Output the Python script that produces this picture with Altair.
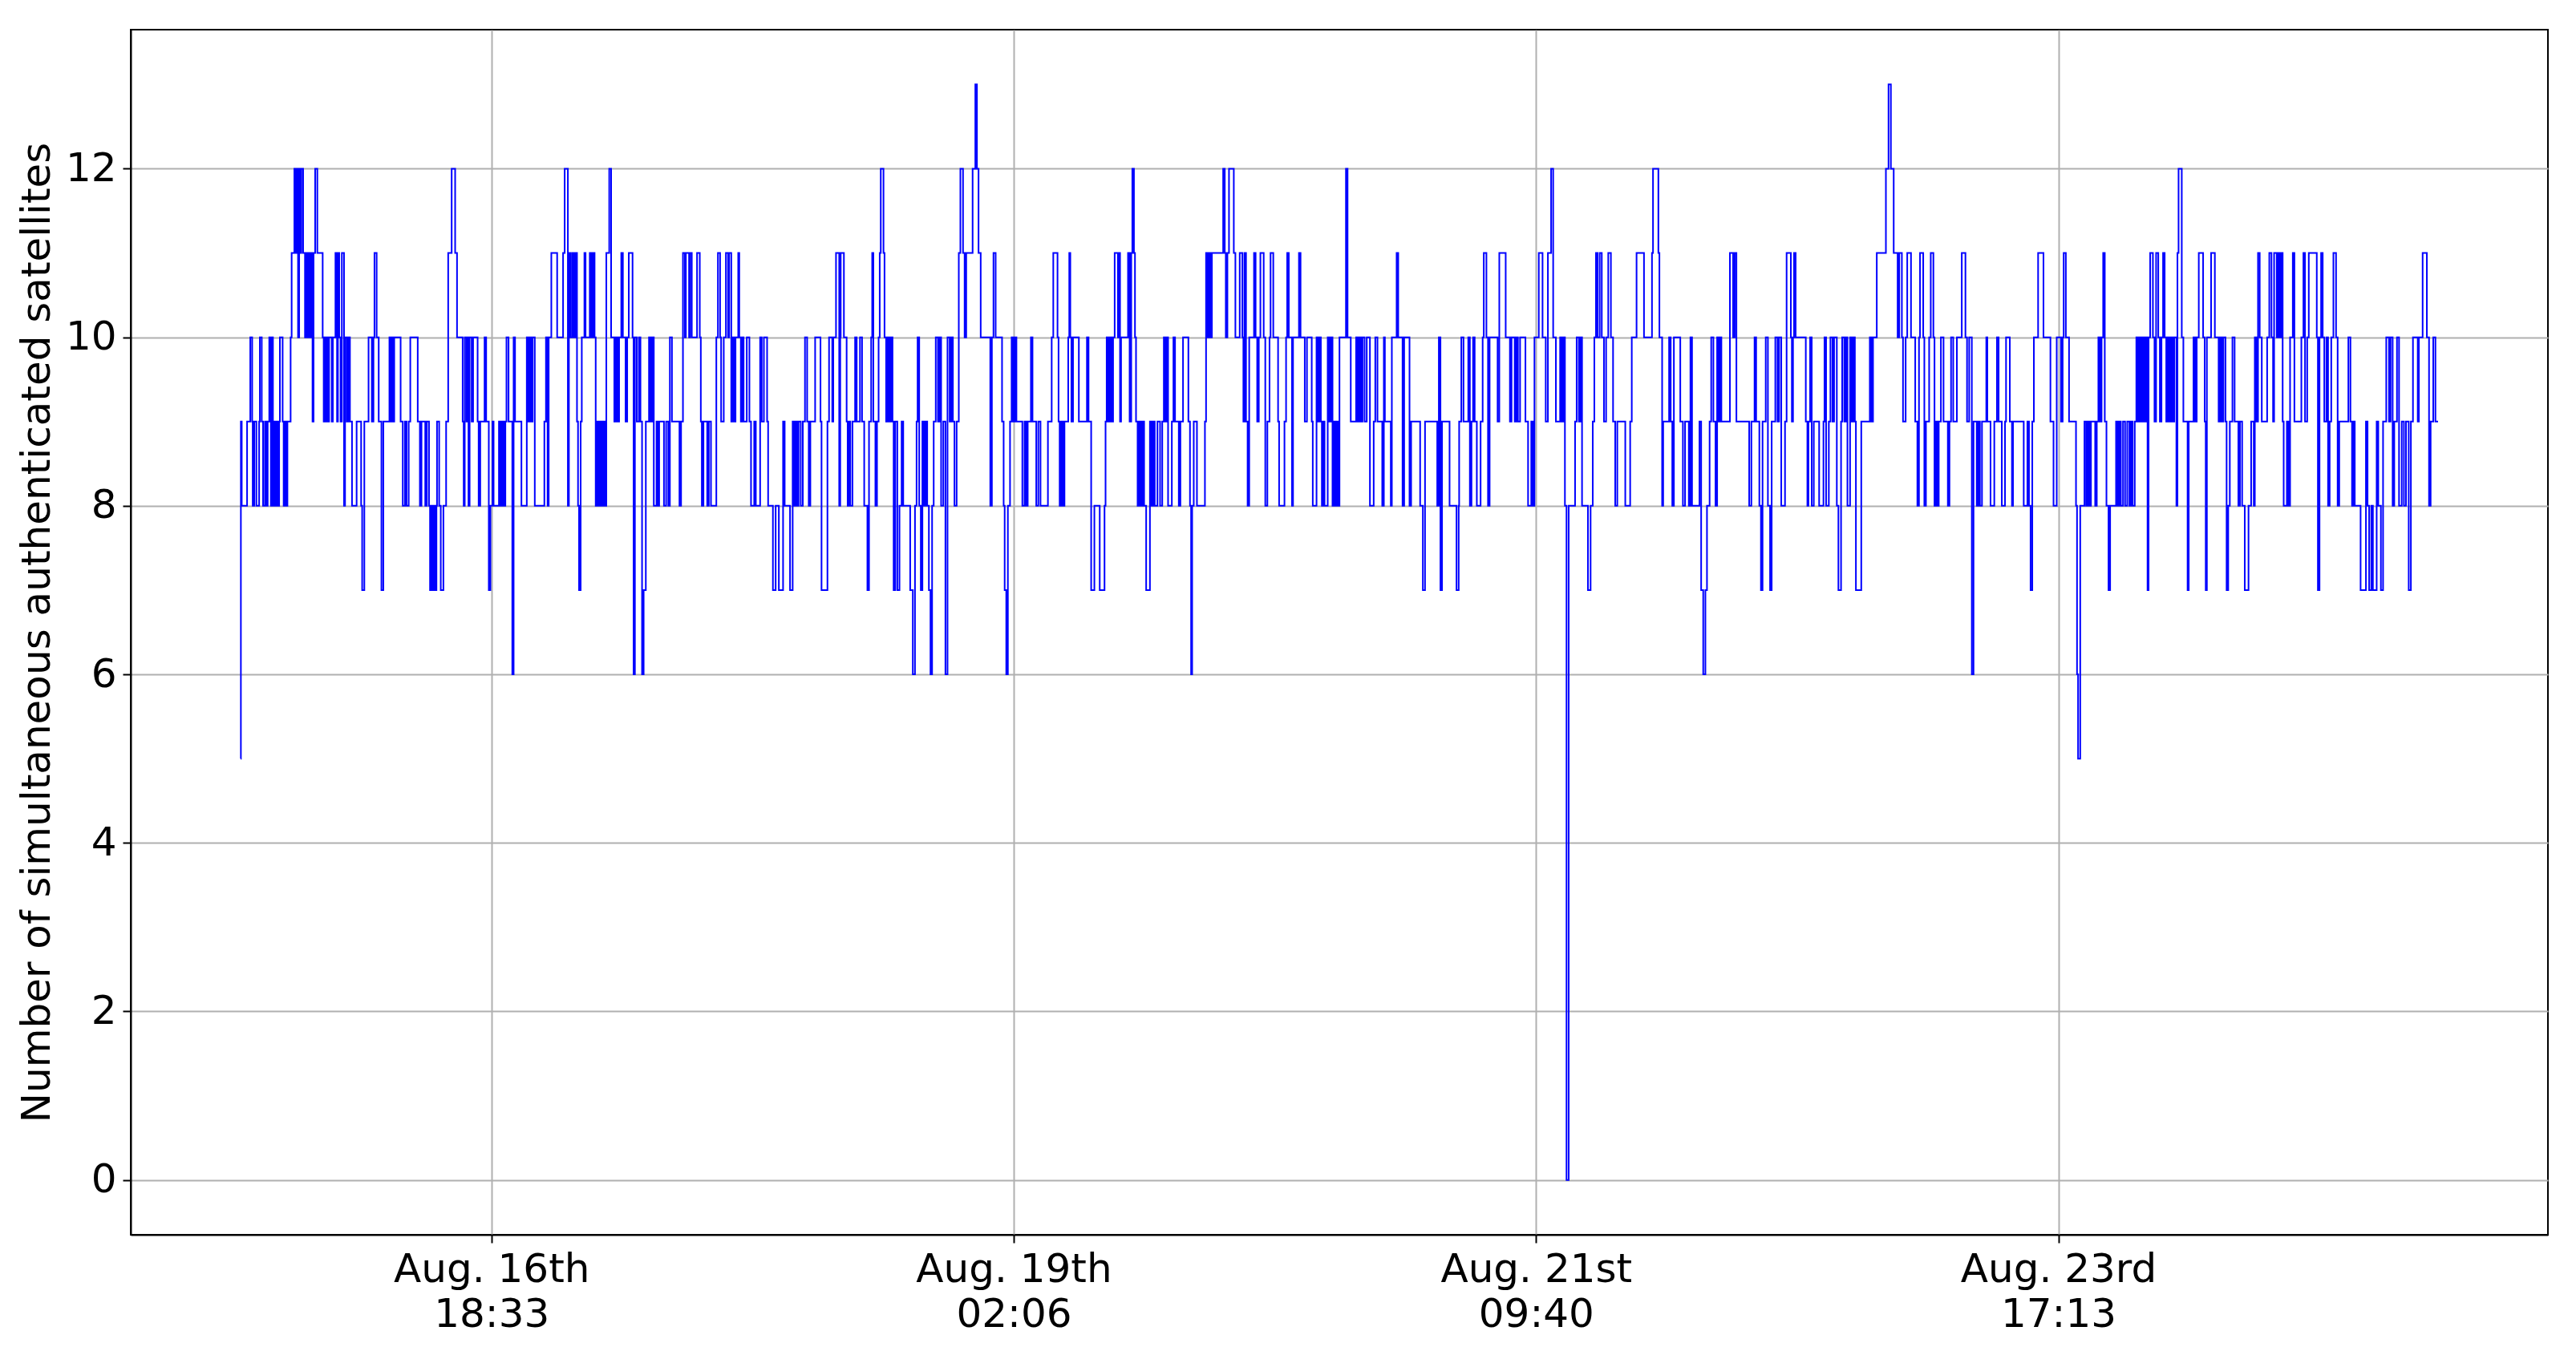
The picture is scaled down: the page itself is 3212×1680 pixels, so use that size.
import json
import altair as alt
import pandas as pd

# time in hours since Aug. 15th 00:00, number of simultaneous authenticated satellites
seg01 = [[15.87, 5], [15.90, 9], [15.99, 8], [16.56, 9], [16.90, 10], [17.10, 9], [17.16, 8], [17.33, 9],
         [17.55, 8], [17.84, 9], [17.92, 10], [18.12, 9], [18.26, 8], [18.46, 9], [18.63, 8], [18.75, 9],
         [18.92, 10], [19.09, 8], [19.20, 10], [19.31, 8], [19.48, 9], [19.60, 8], [19.71, 9], [19.83, 8],
         [19.97, 9], [20.05, 10], [20.34, 9], [20.45, 8], [20.56, 9], [20.73, 8], [20.85, 9], [21.19, 10],
         [21.30, 11], [21.59, 12], [21.70, 11], [21.87, 12], [21.98, 10], [22.10, 12], [22.21, 11], [22.33, 12],
         [22.52, 11], [22.72, 10], [22.84, 11], [23.01, 10], [23.12, 11], [23.29, 10], [23.41, 11], [23.52, 9],
         [23.63, 11], [23.80, 12], [24.03, 11], [24.60, 10], [24.71, 9], [24.83, 10], [24.94, 9], [25.05, 10],
         [25.17, 9], [25.28, 10], [25.56, 9], [25.68, 10], [25.96, 11], [26.13, 9], [26.22, 11], [26.36, 10],
         [26.50, 9], [26.64, 11], [26.87, 8], [26.98, 10], [27.16, 9], [27.33, 10], [27.50, 9], [27.72, 8],
         [28.21, 9], [28.69, 8], [28.80, 7], [29.03, 9], [29.48, 10], [29.83, 9], [30.00, 10], [30.11, 11],
         [30.34, 10], [30.56, 9], [30.85, 7], [31.05, 9], [31.70, 10], [31.82, 9], [31.93, 10], [32.10, 9],
         [32.21, 10], [32.89, 9], [33.12, 8], [33.35, 9], [33.52, 8], [33.75, 9], [33.92, 10], [34.71, 9],
         [34.94, 8], [35.11, 9], [35.51, 8], [35.68, 9], [35.91, 8], [36.02, 7], [36.19, 8], [36.30, 7],
         [36.47, 8], [36.59, 7], [36.70, 8]]
seg02 = [[36.76, 9], [36.99, 8], [37.16, 7], [37.44, 8], [37.73, 9], [37.95, 11], [38.32, 12], [38.69, 11],
         [38.89, 10], [39.49, 9], [39.60, 8], [39.71, 10], [39.89, 9], [40.00, 10], [40.11, 8], [40.23, 10],
         [40.45, 9], [40.60, 10], [41.08, 9], [41.19, 8], [41.36, 9], [41.82, 10], [41.99, 9], [42.27, 7],
         [42.44, 8], [42.67, 9], [42.78, 8], [43.35, 9], [43.52, 8], [43.69, 9], [43.86, 8], [44.03, 9],
         [44.15, 10], [44.37, 9], [44.77, 6], [44.91, 10], [45.06, 9], [45.74, 8], [46.31, 10], [46.48, 9],
         [46.59, 10], [46.76, 9], [46.93, 10], [47.16, 8], [48.18, 9], [48.35, 10], [48.52, 8], [48.64, 10],
         [48.92, 11], [49.54, 10], [50.17, 11], [50.34, 12], [50.68, 8], [50.79, 11], [50.96, 10], [51.14, 11],
         [51.31, 10], [51.48, 11], [51.65, 9], [51.76, 8], [51.87, 7], [52.04, 9], [52.16, 10], [52.44, 11],
         [52.56, 10], [53.01, 11], [53.18, 10], [53.35, 11], [53.52, 10], [53.64, 8], [53.81, 9], [53.98, 8],
         [54.15, 9], [54.32, 8], [54.49, 9], [54.66, 8], [54.77, 11], [55.08, 12], [55.28, 10], [55.62, 9],
         [55.79, 10], [55.96, 9], [56.13, 10], [56.36, 11], [56.53, 10], [56.82, 9], [56.99, 10], [57.16, 11],
         [57.56, 10], [57.67, 6], [57.81, 10], [58.01, 9]]
seg03 = [[58.23, 10], [58.40, 9], [58.57, 6], [58.74, 7], [58.97, 9], [59.31, 10], [59.48, 9], [59.65, 10],
         [59.82, 8], [60.11, 9], [60.22, 8], [60.39, 9], [60.90, 8], [61.13, 9], [61.36, 8], [61.53, 10],
         [61.75, 9], [62.55, 8], [62.72, 9], [62.92, 11], [63.12, 10], [63.23, 11], [63.57, 10], [63.68, 11],
         [63.86, 10], [64.42, 11], [64.71, 10], [64.82, 9], [64.93, 8], [65.10, 9], [65.50, 8], [65.67, 9],
         [65.90, 8], [66.47, 10], [66.64, 11], [66.87, 10], [66.98, 9], [67.26, 10], [67.49, 11], [67.72, 10],
         [67.83, 11], [68.06, 9], [68.23, 10], [68.40, 9], [68.51, 10], [68.80, 11], [68.91, 10], [69.08, 9],
         [69.20, 10], [69.37, 9], [69.71, 10], [69.99, 9], [70.16, 8], [70.50, 9], [70.67, 8], [71.13, 10],
         [71.30, 9], [71.53, 10], [71.87, 9], [71.98, 8], [72.49, 7], [72.78, 8], [73.12, 7], [73.57, 9],
         [73.74, 8], [74.31, 7], [74.59, 9], [74.71, 8], [74.88, 9], [75.05, 8], [75.22, 9], [75.45, 8],
         [75.67, 9], [75.90, 10], [76.13, 9], [76.30, 8], [76.47, 9], [76.98, 10], [77.55, 9], [77.66, 7],
         [78.29, 9], [78.46, 10], [78.80, 9], [78.91, 10], [79.20, 11], [79.54, 8], [79.65, 10]]
seg04 = [[79.70, 11], [80.04, 10], [80.33, 9], [80.44, 8], [80.55, 9], [80.72, 8], [80.95, 9], [81.23, 10],
         [81.40, 9], [81.75, 10], [81.97, 9], [82.20, 8], [82.54, 7], [82.71, 9], [82.94, 10], [83.05, 11],
         [83.17, 9], [83.39, 8], [83.56, 9], [83.73, 10], [83.85, 11], [83.96, 12], [84.25, 11], [84.36, 10],
         [84.53, 9], [84.70, 10], [84.87, 9], [85.04, 10], [85.21, 9], [85.33, 7], [85.50, 9], [85.72, 7],
         [85.95, 8], [86.18, 9], [86.35, 8], [87.09, 7], [87.37, 6], [87.60, 8], [87.77, 9], [87.88, 10],
         [88.05, 8], [88.22, 7], [88.39, 9], [88.56, 8], [88.73, 9], [88.90, 8], [89.08, 7], [89.25, 6],
         [89.42, 8], [89.59, 9], [89.81, 10], [90.04, 9], [90.21, 10], [90.38, 8], [90.61, 9], [90.84, 6],
         [91.06, 10], [91.29, 9], [91.46, 10], [91.63, 9], [91.80, 8], [92.03, 9], [92.26, 11], [92.43, 12],
         [92.71, 11], [92.88, 10], [93.05, 11], [93.73, 12], [94.02, 13], [94.19, 12], [94.36, 11], [94.59, 10],
         [95.61, 8], [95.78, 10], [95.95, 11], [96.18, 10], [96.86, 9], [97.03, 8], [97.14, 7], [97.31, 6],
         [97.48, 8], [97.71, 9], [97.88, 10], [98.05, 9], [98.22, 10], [98.39, 9], [99.02, 8], [99.25, 9],
         [99.42, 8], [99.59, 9], [99.93, 10], [100.10, 9], [100.50, 8], [100.72, 9], [100.95, 8]]
seg05 = [[101.17, 8], [101.74, 9], [102.14, 10], [102.31, 11], [102.76, 10], [102.87, 9], [102.99, 8],
         [103.16, 9], [103.33, 8], [103.50, 9], [103.90, 10], [104.01, 11], [104.12, 10], [104.24, 9],
         [104.41, 10], [105.03, 9], [105.89, 10], [106.06, 9], [106.34, 7], [106.68, 8], [107.25, 7],
         [107.76, 8], [107.87, 9], [107.99, 10], [108.16, 9], [108.33, 10], [108.50, 9], [108.67, 10],
         [108.84, 11], [109.18, 10], [109.30, 11], [109.41, 9], [109.52, 10], [110.26, 11], [110.43, 9],
         [110.60, 11], [110.72, 12], [110.89, 11], [111.00, 10], [111.11, 9], [111.28, 8], [111.40, 9],
         [111.51, 8], [111.62, 9], [111.74, 8], [111.85, 9], [111.97, 8], [112.19, 7], [112.59, 9],
         [112.76, 8], [112.93, 9], [113.10, 8], [113.39, 9], [113.67, 8], [113.90, 9], [114.07, 10],
         [114.24, 9], [114.41, 10], [114.52, 8], [114.92, 9], [115.09, 10], [115.26, 9], [115.66, 8],
         [115.83, 9], [116.11, 10], [116.68, 9], [116.85, 8], [116.97, 6], [117.08, 8], [117.25, 9],
         [117.59, 8], [118.44, 9], [118.56, 11], [118.73, 10], [118.84, 11], [119.01, 10], [119.18, 11],
         [120.38, 12], [120.55, 11], [120.66, 10], [120.83, 11], [121.00, 12], [121.51, 11], [121.68, 10],
         [122.14, 11], [122.42, 10], [122.53, 9]]
seg06 = [[122.64, 11], [122.81, 9], [122.98, 8], [123.15, 10], [123.66, 11], [123.83, 10], [124.00, 9],
         [124.17, 10], [124.34, 11], [124.69, 10], [124.86, 8], [125.08, 9], [125.31, 10], [125.42, 11],
         [125.71, 10], [126.22, 9], [126.33, 8], [126.90, 9], [127.07, 10], [127.19, 11], [127.36, 10],
         [127.70, 8], [127.81, 10], [128.44, 11], [128.61, 10], [129.06, 9], [129.29, 10], [129.80, 9],
         [129.91, 8], [130.31, 10], [130.48, 9], [130.60, 10], [130.77, 9], [130.88, 8], [131.05, 9],
         [131.16, 8], [131.50, 10], [131.67, 9], [131.84, 10], [132.01, 8], [132.18, 9], [132.30, 8],
         [132.47, 9], [132.58, 8], [132.75, 10], [133.44, 12], [133.61, 10], [133.95, 9], [134.52, 10],
         [134.69, 9], [134.86, 10], [135.03, 9], [135.20, 10], [135.42, 9], [135.65, 10], [135.99, 8],
         [136.39, 9], [136.56, 10], [136.79, 9], [137.30, 8], [137.47, 10], [137.58, 9], [138.21, 8],
         [138.32, 10], [138.83, 11], [139.00, 10], [139.46, 8], [139.63, 10], [140.20, 8], [140.37, 9],
         [141.33, 8], [141.62, 7], [141.85, 9], [143.15, 8], [143.32, 10], [143.49, 7], [143.66, 9]]
seg07 = [[144.12, 9], [144.46, 8], [145.20, 7], [145.43, 8], [145.48, 9], [145.71, 10], [145.94, 9],
         [146.45, 10], [146.62, 8], [146.79, 9], [146.96, 10], [147.13, 9], [147.36, 8], [147.76, 9],
         [147.98, 10], [148.10, 11], [148.38, 10], [148.55, 8], [148.72, 10], [149.57, 9], [149.75, 11],
         [150.43, 10], [150.88, 9], [151.05, 10], [151.39, 9], [151.56, 10], [151.73, 9], [151.96, 10],
         [152.53, 9], [152.81, 8], [153.15, 9], [153.32, 8], [153.49, 10], [153.95, 11], [154.35, 10],
         [154.69, 9], [154.92, 11], [155.26, 12], [155.48, 10], [155.77, 9], [156.22, 10], [156.39, 9],
         [156.56, 10], [156.73, 8], [156.90, 0], [157.13, 8], [157.81, 9], [157.98, 10], [158.21, 9],
         [158.38, 10], [158.55, 8], [159.18, 7], [159.46, 8], [159.69, 9], [159.86, 10], [160.03, 11],
         [160.20, 10], [160.43, 11], [160.65, 10], [160.88, 9], [161.11, 10], [161.34, 11], [161.62, 10],
         [161.85, 9], [162.08, 8], [162.30, 9], [163.15, 8], [163.67, 9], [163.84, 10], [164.35, 11],
         [165.14, 10]]
seg08 = [[165.59, 10], [165.99, 11], [166.10, 12], [166.67, 11], [166.78, 10], [167.07, 8], [167.18, 9],
         [167.81, 10], [167.98, 9], [168.15, 8], [168.32, 10], [169.00, 9], [169.28, 8], [169.51, 9],
         [169.91, 8], [170.08, 10], [170.25, 8], [171.04, 9], [171.22, 7], [171.44, 6], [171.67, 7],
         [171.84, 8], [172.12, 9], [172.29, 10], [172.52, 9], [172.75, 8], [172.92, 10], [173.09, 9],
         [173.20, 10], [173.37, 9], [174.28, 11], [174.62, 10], [174.79, 11], [174.97, 9], [176.33, 8],
         [176.56, 9], [176.90, 10], [177.07, 9], [177.41, 8], [177.58, 7], [177.75, 9], [178.09, 10],
         [178.32, 8], [178.55, 7], [178.72, 9], [179.11, 10], [179.34, 9], [179.51, 10], [179.74, 8],
         [180.14, 9], [180.31, 11], [180.76, 10], [180.87, 9], [180.99, 10], [181.10, 11], [181.27, 10],
         [182.35, 9], [182.52, 8], [182.63, 9], [182.81, 10], [182.98, 8], [183.20, 9], [183.77, 8],
         [184.23, 9], [184.34, 10], [184.51, 8], [184.80, 9], [184.97, 10], [185.19, 9], [185.36, 10],
         [185.65, 8], [185.82, 7], [186.10, 9], [186.22, 10], [186.44, 9], [186.61, 10], [186.78, 8]]
seg09 = [[187.06, 10], [187.23, 9], [187.40, 10], [187.57, 9], [187.68, 7], [188.25, 9], [189.16, 10],
         [189.33, 9], [189.50, 10], [189.90, 11], [190.87, 12], [191.15, 13], [191.40, 12], [191.70, 11],
         [192.12, 10], [192.29, 11], [192.57, 10], [192.69, 9], [192.97, 10], [193.14, 11], [193.54, 10],
         [193.99, 9], [194.22, 8], [194.39, 10], [194.50, 11], [194.84, 10], [194.96, 8], [195.13, 9],
         [195.47, 10], [195.64, 11], [195.92, 10], [196.04, 8], [196.15, 9], [196.32, 8], [196.49, 9],
         [196.72, 10], [197.00, 9], [197.46, 8], [197.63, 9], [197.80, 10], [198.03, 9], [198.42, 10],
         [198.94, 11], [199.33, 10], [199.50, 9], [199.73, 10], [200.01, 6], [200.19, 9], [200.53, 8],
         [200.70, 9], [200.87, 8], [201.09, 9], [201.55, 10], [201.66, 9], [202.00, 8], [202.40, 9],
         [202.68, 10], [202.86, 9], [203.20, 8], [203.54, 9], [203.65, 10], [204.05, 9], [204.28, 8],
         [204.39, 9], [205.53, 8], [205.92, 9], [206.09, 8], [206.26, 7], [206.44, 9], [206.61, 10],
         [207.06, 11], [207.63, 10], [208.37, 9]]
seg10 = [[208.53, 9], [208.70, 8], [209.04, 10], [209.50, 9], [209.67, 10], [209.78, 11], [210.01, 10],
         [210.35, 9], [211.09, 8], [211.20, 6], [211.31, 5], [211.54, 8], [211.99, 9], [212.17, 8],
         [212.34, 9], [212.51, 8], [212.68, 9], [213.13, 8], [213.30, 9], [213.47, 10], [213.64, 9],
         [213.81, 10], [213.98, 11], [214.15, 9], [214.33, 8], [214.55, 7], [214.72, 8], [215.35, 9],
         [215.52, 8], [215.69, 9], [215.86, 8], [216.09, 9], [216.31, 8], [216.54, 9], [216.77, 8],
         [216.94, 9], [217.11, 8], [217.34, 9], [217.51, 10], [217.68, 9], [217.85, 10], [218.02, 9],
         [218.19, 10], [218.36, 9], [218.53, 10], [218.70, 7], [218.81, 10], [218.98, 11], [219.27, 10],
         [219.44, 9], [219.61, 11], [219.84, 10], [220.01, 9], [220.18, 10], [220.35, 11], [220.52, 10],
         [220.69, 9], [220.86, 10], [221.03, 9], [221.20, 10], [221.37, 9], [221.54, 10], [221.77, 8],
         [221.88, 11], [222.00, 12], [222.34, 10], [222.51, 9], [222.96, 7], [223.08, 9], [223.59, 10],
         [223.76, 9], [223.93, 10], [224.15, 11], [224.61, 10], [224.78, 9], [224.89, 7], [225.01, 10],
         [225.46, 11], [225.86, 10], [226.26, 9], [226.43, 10], [226.60, 9], [226.77, 10], [226.99, 9],
         [227.11, 7], [227.28, 8], [227.45, 9], [227.73, 10], [227.96, 9], [228.36, 8], [228.53, 9],
         [228.76, 8], [229.04, 7], [229.44, 8], [229.72, 9]]
seg11 = [[230.00, 8], [230.11, 10], [230.28, 9], [230.45, 11], [230.63, 10], [230.85, 9], [231.42, 10],
         [231.65, 11], [231.88, 10], [232.05, 9], [232.16, 11], [232.44, 10], [232.61, 11], [232.78, 10],
         [232.95, 11], [233.07, 9], [233.18, 8], [233.52, 9], [233.69, 8], [233.86, 10], [234.15, 11],
         [234.32, 9], [235.06, 10], [235.28, 11], [235.45, 9], [235.68, 10], [235.85, 11], [236.70, 10],
         [236.82, 7], [236.99, 10], [237.16, 11], [237.33, 10], [237.50, 9], [237.73, 10], [237.90, 8],
         [238.07, 9], [238.24, 10], [238.47, 11], [238.75, 10], [238.92, 8], [239.09, 9], [240.06, 10],
         [240.28, 9], [240.45, 8], [240.57, 9], [240.74, 8], [241.36, 7], [241.93, 9], [242.10, 8],
         [242.27, 7], [242.50, 8], [242.67, 7], [243.07, 9], [243.24, 8], [243.52, 7], [243.75, 9],
         [244.09, 10], [244.38, 9], [244.55, 10], [244.77, 8], [244.94, 9], [245.23, 10], [245.45, 8],
         [245.74, 9], [245.97, 8], [246.19, 9], [246.48, 7], [246.71, 9], [246.93, 10], [247.44, 9],
         [247.56, 10], [247.96, 11], [248.41, 10], [248.64, 8], [248.81, 9], [249.09, 10], [249.32, 9],
         [249.60, 9]]

segments = [seg01, seg02, seg03, seg04, seg05, seg06, seg07, seg08, seg09, seg10, seg11]

tick_hours = [42.55, 98.10, 153.66, 209.21]
tick_labels = [["Aug. 16th", "18:33"], ["Aug. 19th", "02:06"], ["Aug. 21st", "09:40"], ["Aug. 23rd", "17:13"]]
y_ticks = [0, 2, 4, 6, 8, 10, 12]

rows = [{"hours": p[0], "sats": p[1]} for seg in segments for p in seg]
df = pd.DataFrame(rows)

t_min = df["hours"].min()
t_max = df["hours"].max()
pad = 0.05 * (t_max - t_min)
x_domain = [t_min - pad, t_max + pad]
y_domain = [-0.65, 13.65]

label_expr = ""
for h, lab in zip(tick_hours, tick_labels):
    label_expr += f"abs(datum.value - {h}) < 0.01 ? {json.dumps(lab)} : "
label_expr += "''"

FONT = "DejaVu Sans"

chart = alt.Chart(df).mark_line(
    interpolate="step-after", color="#0000ff", strokeWidth=2, clip=True
).encode(
    x=alt.X("hours:Q",
            scale=alt.Scale(domain=x_domain, nice=False, zero=False),
            axis=alt.Axis(values=tick_hours, labelExpr=label_expr, title=None,
                          labelFontSize=50, labelLineHeight=56, labelPadding=8,
                          labelFont=FONT, labelColor="black", labelAlign="center",
                          labelLimit=0,
                          tickSize=10, tickWidth=2, tickColor="black",
                          domainColor="black", domainWidth=2,
                          grid=True, gridColor="#b0b0b0", gridWidth=2,
                          labelOverlap=False)),
    y=alt.Y("sats:Q",
            scale=alt.Scale(domain=y_domain, nice=False, zero=False),
            axis=alt.Axis(values=y_ticks, title="Number of simultaneous authenticated satellites",
                          titleFontSize=50, titleFont=FONT, titleFontWeight="normal",
                          titleColor="black", titlePadding=10, titleLimit=0,
                          labelFontSize=50, labelFont=FONT, labelColor="black", labelPadding=8,
                          tickSize=10, tickWidth=2, tickColor="black",
                          domainColor="black", domainWidth=2,
                          grid=True, gridColor="#b0b0b0", gridWidth=2)),
).properties(
    width=3014, height=1503,
    autosize=alt.AutoSizeParams(type="none"),
    padding={"left": 155, "top": 29, "right": 26, "bottom": 125},
    background="white",
).configure_view(
    stroke="black", strokeWidth=2
)

chart.save("out.html", embed_options={"renderer": "svg", "actions": False})
